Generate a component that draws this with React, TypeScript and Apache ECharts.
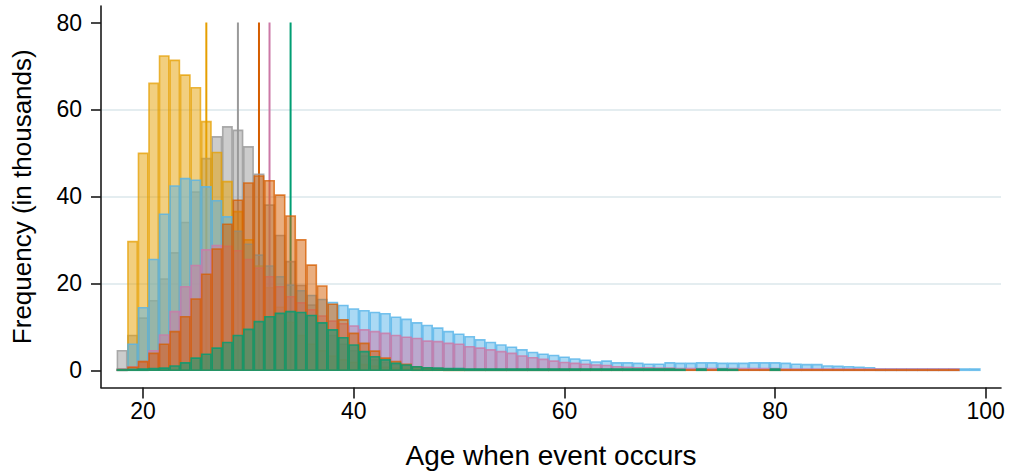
import React, { useEffect, useRef } from "react";
import * as echarts from "echarts";

// Histogram counts (thousands), one value per year of age starting at START_AGE
const START_AGE = 18;

const grayCounts = [
  4.5, 8, 12, 16, 21, 27, 34, 41, 48.7, 53.7, 56.0, 55.2, 51.4, 45.1, 38, 31, 25, 19.5, 15, 11,
  8, 6, 4.5, 3.3, 2.4, 1.8, 1.3, 1.0, 0.7, 0.5, 0.4, 0.3, 0.2, 0.1, 0.1, 0.1, 0.1, 0.1, 0.1, 0.1,
  0.1, 0.1, 0.1,
];

const yellowCounts = [
  0, 29.6, 49.9, 66.0, 72.3, 71.3, 67.9, 65.0, 57.2, 50.1, 43.4, 36.5, 30, 24, 19, 14.5, 11, 8, 6, 4.5,
  3.3, 2.4, 1.8, 1.3, 1.0, 0.7, 0.5, 0.4, 0.3, 0.2, 0.2, 0.1, 0.1,
];

const blueCounts = [
  0.3, 6.0, 14.4, 25.5, 35.9, 42.4, 44.1, 43.7, 42.2, 39.0, 35.3, 32, 29, 26.5, 24, 21.5, 19.6, 18.3, 17.2, 16.3,
  15.6, 14.9, 14.1, 13.7, 13.3, 13.0, 12.2, 11.7, 10.9, 10.3, 9.7, 8.9, 8.3, 7.7, 7.0, 6.4, 5.8, 5.3, 4.7, 4.1,
  3.7, 3.4, 3.0, 2.6, 2.3, 1.9, 2.1, 1.7, 1.7, 1.6, 1.4, 1.4, 1.7, 1.6, 1.6, 1.7, 1.7, 1.6, 1.6, 1.6,
  1.7, 1.7, 1.7, 1.6, 1.4, 1.3, 1.3, 1.0, 0.9, 0.8, 0.7, 0.6, 0.3, 0.3, 0.3, 0.3, 0.3, 0.3, 0.3, 0.3,
  0.3, 0.3,
];

const pinkCounts = [
  0.2, 0.8, 2.0, 4.5, 8.1, 13.5, 19.2, 24.1, 27.7, 28.7, 28.5, 27.5, 25.5, 23.5, 21.5, 19.2, 16.9, 15.5, 13.9, 12.5,
  11.3, 10.7, 10.2, 9.3, 8.9, 8.5, 8.0, 7.6, 7.3, 6.7, 6.6, 6.2, 6.0, 5.4, 5.1, 4.7, 4.3, 3.9, 3.3, 2.9,
  2.5, 2.1, 1.8, 1.6, 1.4, 1.2, 1.1, 0.8, 0.7, 0.6, 0.6, 0.5, 0.5, 0.4, 0.4, 0.4, 0.4, 0.4, 0.4, 0.4,
  0.4, 0.4, 0.4, 0.3, 0.3, 0.3, 0.3, 0.3, 0.3, 0.3, 0.3, 0.3, 0.3, 0.3, 0.3, 0.3, 0.3, 0.3, 0.3, 0.3,
];

const orangeCounts = [
  0.2, 0.7, 2.0, 3.9, 6.0, 8.9, 12.3, 16.4, 22.1, 27.9, 33.6, 39.1, 43.1, 44.7, 43.6, 40.3, 35.5, 30.0, 24.2, 19.4,
  15.2, 11.6, 8.5, 6.2, 4.4, 2.8, 2.0, 1.4, 0.8, 0.5, 0.4, 0.3, 0.2, 0.2, 0.2, 0.2, 0.2, 0.2, 0.2, 0.2,
  0.2, 0.2, 0.2, 0.2, 0.2, 0.2, 0.2, 0.2, 0.2, 0.2, 0.2, 0.2, 0.2, 0.1, 0.1, 0.1, 0.1, 0.1, 0.1, 0.1,
  0.1, 0.1, 0.1, 0.1, 0.1, 0.1, 0.1, 0.1, 0.1, 0.1, 0.1, 0.1, 0.1, 0.1, 0.1, 0.1, 0.1, 0.1, 0.1, 0.1,
];

const greenCounts = [
  0.1, 0.2, 0.3, 0.4, 0.5, 1.0, 1.7, 2.8, 3.7, 5.1, 6.4, 8.0, 9.4, 11.2, 12.3, 13.1, 13.5, 13.3, 12.6, 10.9,
  9.3, 7.5, 5.8, 4.3, 3.1, 2.4, 1.6, 1.2, 0.8, 0.6, 0.5, 0.4, 0.4, 0.3, 0.3, 0.3, 0.3, 0.3, 0.3, 0.3,
  0.3, 0.3, 0.3, 0.3, 0.3, 0.3, 0.3, 0.3, 0.3, 0.3, 0.3, 0.3, 0.3, 0.2, 0, 0.3, 0, 0.3, 0.2, 0,
  0, 0, 0.3,
];

// Vertical reference lines (median ages)
const medianYellow = 26;
const medianGray = 29;
const medianOrange = 31;
const medianPink = 32;
const medianGreen = 34;

const xTicks = [20, 40, 60, 80, 100];
const yTicks = [0, 20, 40, 60, 80];
const lineTop = 80;

const FONT = '"Liberation Sans", Arial, Helvetica, sans-serif';

const toData = (arr: number[]) => arr.map((v, i) => [START_AGE + i, v]);

const makeHist = (name: string, arr: number[], fill: string, stroke: string) => ({
  name,
  type: "custom",
  silent: true,
  z: 3,
  data: toData(arr),
  encode: { x: 0, y: 1 },
  renderItem: (_params: any, api: any) => {
    const age = api.value(0);
    const v = api.value(1);
    if (!(v > 0)) return null;
    const tl = api.coord([age - 0.5, v]);
    const br = api.coord([age + 0.5, 0]);
    return {
      type: "rect",
      shape: { x: tl[0] + 0.6, y: tl[1], width: br[0] - tl[0] - 1.2, height: br[1] - tl[1] },
      style: { fill, stroke, lineWidth: 1.6 },
    };
  },
});

const makeMedian = (m: number, color: string) => ({
  type: "line",
  silent: true,
  z: 1,
  showSymbol: false,
  symbol: "none",
  data: [
    [m, 0],
    [m, lineTop],
  ],
  lineStyle: { color, width: 2 },
});

export default function App() {
  const ref = useRef<HTMLDivElement>(null);
  useEffect(() => {
    if (!ref.current) return;
    const chart = echarts.init(ref.current, undefined, { renderer: "svg" });
    const axisColor = "#1a1a1a";
    chart.setOption({
      animation: false,
      backgroundColor: "#ffffff",
      textStyle: { fontFamily: FONT },
      grid: { left: 101, right: 8, top: 6, bottom: 84.5, containLabel: false, outerBoundsMode: "none" },
      xAxis: {
        type: "value",
        min: 16.0,
        max: 101.45,
        name: "Age when event occurs",
        nameLocation: "middle",
        nameGap: 54,
        nameTextStyle: { fontSize: 28, color: "#000", fontFamily: FONT },
        axisLine: { show: true, onZero: false, lineStyle: { color: axisColor, width: 1.6 } },
        axisTick: { show: true, length: 11, customValues: xTicks, lineStyle: { color: axisColor, width: 1.6 } },
        axisLabel: { customValues: xTicks, fontSize: 23, color: "#000", margin: 12, fontFamily: FONT },
        splitLine: { show: false },
      },
      yAxis: {
        type: "value",
        min: -3.96,
        max: 83.8,
        splitNumber: 4,
        name: "Frequency (in thousands)",
        nameLocation: "middle",
        nameGap: 66,
        nameRotate: 90,
        nameTextStyle: { fontSize: 26, color: "#000", fontFamily: FONT },
        axisLine: { show: true, onZero: false, lineStyle: { color: axisColor, width: 1.6 } },
        axisTick: { show: true, length: 10, customValues: yTicks, lineStyle: { color: axisColor, width: 1.6 } },
        axisLabel: { customValues: yTicks, fontSize: 23, color: "#000", margin: 19, fontFamily: FONT },
        splitLine: {
          show: true,
          showMinLine: false,
          showMaxLine: false,
          lineStyle: { color: "#E4EDF0", width: 1.8 },
        },
      },
      series: [
        makeMedian(medianYellow, "#E69F00"),
        makeMedian(medianGray, "#999999"),
        makeMedian(medianOrange, "#D55E00"),
        makeMedian(medianPink, "#CC79A7"),
        makeMedian(medianGreen, "#009E73"),
        makeHist("gray", grayCounts, "rgba(153,153,153,0.5)", "rgba(153,153,153,0.8)"),
        makeHist("yellow", yellowCounts, "rgba(230,159,0,0.5)", "rgba(230,159,0,0.75)"),
        makeHist("blue", blueCounts, "rgba(86,180,233,0.5)", "rgba(86,180,233,0.8)"),
        makeHist("pink", pinkCounts, "rgba(204,121,167,0.5)", "rgba(204,121,167,0.8)"),
        makeHist("orange", orangeCounts, "rgba(213,94,0,0.5)", "rgba(213,94,0,0.75)"),
        makeHist("green", greenCounts, "rgba(0,158,115,0.5)", "rgba(0,158,115,0.8)"),
      ],
    });
    return () => chart.dispose();
  }, []);
  return (
    <div
      ref={ref}
      style={{ position: "fixed", left: 0, top: 0, width: 1009, height: 472, background: "#fff" }}
    />
  );
}
